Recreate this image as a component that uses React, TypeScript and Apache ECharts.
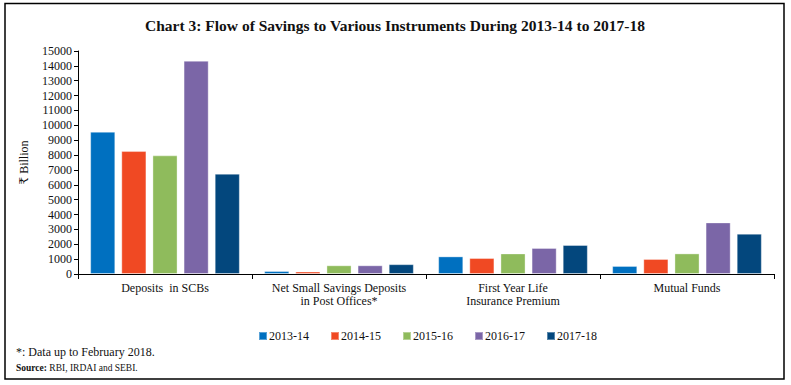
import React, { useEffect, useRef } from "react";
import * as echarts from "echarts";

const categories = [
  "Deposits  in SCBs",
  "Net Small Savings Deposits\nin Post Offices*",
  "First Year Life\nInsurance Premium",
  "Mutual Funds",
];
const seriesNames = ["2013-14", "2014-15", "2015-16", "2016-17", "2017-18"];
const v2013_14 = [9570, 200, 1185, 540];
const v2014_15 = [8270, 170, 1075, 1010];
const v2015_16 = [7980, 585, 1385, 1385];
const v2016_17 = [14345, 585, 1750, 3470];
const v2017_18 = [6745, 660, 1950, 2710];
const seriesValues = [v2013_14, v2014_15, v2015_16, v2016_17, v2017_18];
const colors = ["#0070C0", "#F04923", "#8FBB5C", "#7B66A7", "#03477D"];

const titleText = "Chart 3: Flow of Savings to Various Instruments During 2013-14 to 2017-18";
const yAxisName = "₹ Billion";
const footnote = "*: Data up to February 2018.";
const sourceNote = "{b|Source:} RBI, IRDAI and SEBI.";

const FONT = "'Liberation Serif', 'DejaVu Serif', serif";

export default function App() {
  const ref = useRef<HTMLDivElement>(null);
  useEffect(() => {
    if (!ref.current) return;
    const chart = echarts.init(ref.current, undefined, { renderer: "svg" });
    chart.setOption({
      animation: false,
      backgroundColor: "#ffffff",
      textStyle: { fontFamily: FONT, color: "#000" },
      title: {
        text: titleText,
        left: 390,
        textAlign: "center",
        top: 12,
        textStyle: { fontFamily: FONT, fontSize: 15.5, fontWeight: "bold", color: "#111" },
      },
      legend: {
        data: seriesNames,
        left: 258,
        top: 330,
        itemWidth: 8,
        itemHeight: 8,
        itemGap: 21,
        padding: 0,
        icon: "rect",
        textStyle: { fontFamily: FONT, fontSize: 12, color: "#111", padding: [0, 0, 0, -3] },
      },
      grid: { left: 78, right: 17, top: 51, bottom: 111, containLabel: false },
      xAxis: {
        type: "category",
        data: categories,
        axisLine: { show: true, lineStyle: { color: "#000", width: 1 } },
        axisTick: { show: true, length: 5, lineStyle: { color: "#000" } },
        axisLabel: { fontFamily: FONT, fontSize: 12, color: "#111", margin: 7, lineHeight: 13, interval: 0 },
      },
      yAxis: {
        type: "value",
        min: 0,
        max: 15000,
        interval: 1000,
        name: yAxisName,
        nameLocation: "middle",
        nameGap: 48,
        nameRotate: 90,
        nameTextStyle: { fontFamily: FONT, fontSize: 12, color: "#111" },
        axisLine: { show: true, lineStyle: { color: "#000", width: 1 } },
        axisTick: { show: true, length: 4, lineStyle: { color: "#000" } },
        splitLine: { show: false },
        axisLabel: {
          fontFamily: FONT,
          fontSize: 12,
          color: "#111",
          margin: 6,
          formatter: (v: number) => String(v),
        },
      },
      series: seriesNames.map((name, i) => ({
        name,
        type: "bar",
        data: seriesValues[i],
        barCategoryGap: "14%",
        barGap: "24%",
        itemStyle: { color: colors[i], borderColor: "rgba(255,255,255,0.35)", borderWidth: 1 },
      })),
      graphic: [
        {
          type: "rect",
          shape: { x: 5, y: 3.5, width: 779, height: 375.5 },
          style: { fill: "none", stroke: "#000", lineWidth: 1.5 },
          silent: true,
          z: 100,
        },
        {
          type: "text",
          left: 16,
          top: 346,
          style: { text: footnote, fontFamily: FONT, fontSize: 12, fill: "#111" },
        },
        {
          type: "text",
          left: 16,
          top: 363,
          style: {
            text: sourceNote,
            fontFamily: FONT,
            fontSize: 9.5,
            fill: "#111",
            rich: {
              b: { fontFamily: FONT, fontSize: 9.5, fontWeight: "bold", fill: "#111" },
            },
          },
        },
      ],
    });
    return () => chart.dispose();
  }, []);
  return (
    <div
      ref={ref}
      style={{ position: "fixed", left: 0, top: 0, width: 791, height: 385, background: "#fff" }}
    />
  );
}
